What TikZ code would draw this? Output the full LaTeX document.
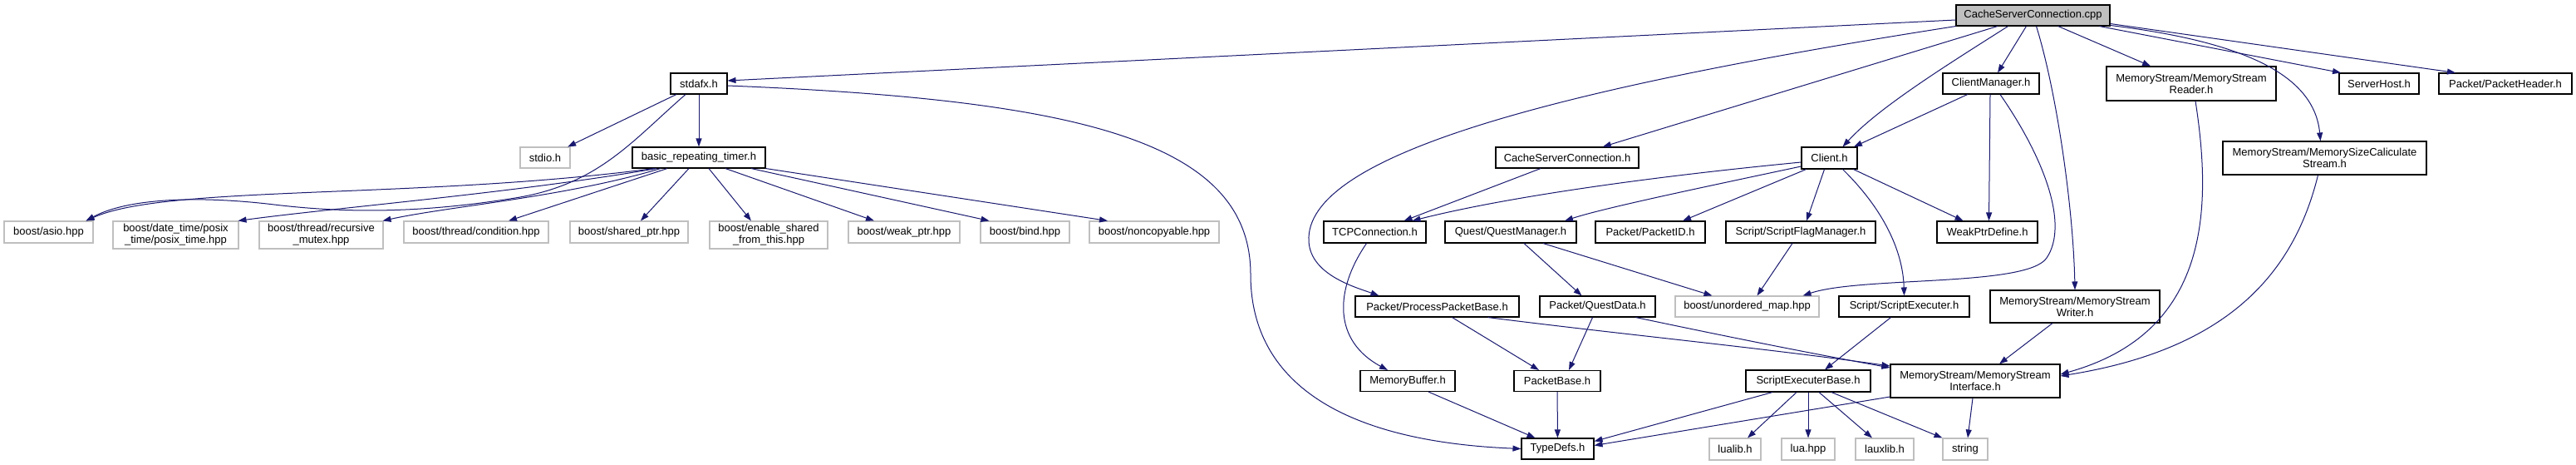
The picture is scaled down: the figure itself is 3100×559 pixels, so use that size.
\documentclass[tikz,border=0pt]{standalone}
\usepackage{fontspec}
\setmainfont{Liberation Sans}
\usetikzlibrary{arrows.meta}
\definecolor{edgec}{HTML}{191970}
\definecolor{extc}{HTML}{BFBFBF}
\definecolor{rootc}{HTML}{BFBFBF}
\begin{document}
\begin{tikzpicture}[x=1pt,y=1pt,
  box/.style={rectangle, draw=black, line width=1.1pt, inner sep=0pt, align=center, font=\fontsize{13}{14}\selectfont, fill=white},
  ext/.style={box, draw=extc},
  root/.style={box, fill=rootc},
  wh/.style 2 args={minimum width=#1pt, minimum height=#2pt},
  edge/.style={draw=edgec, line width=1pt, -{Triangle[length=10pt,width=7pt]}}]
\fill[white] (0,0) rectangle (3100,-559);
\useasboundingbox (0,0) rectangle (3100,-559);

\node[root, wh={185}{25}] (cpp) at (2446.5,-18.5) {CacheServerConnection.cpp};
\node[box, wh={68}{25}] (stdafx) at (841,-100.5) {stdafx.h};
\node[ext, wh={60}{25}] (stdio) at (656,-189.5) {stdio.h};
\node[box, wh={160}{25}] (brt) at (841,-189.5) {basic\_repeating\_timer.h};
\node[ext, wh={107}{26}] (asio) at (58.5,-279) {boost/asio.hpp};
\node[ext, wh={151}{33}] (posix) at (211.5,-282.5) {boost/date\_time/posix\\\_time/posix\_time.hpp};
\node[ext, wh={149}{33}] (rmutex) at (386.5,-282.5) {boost/thread/recursive\\\_mutex.hpp};
\node[ext, wh={174}{26}] (cond) at (573,-279) {boost/thread/condition.hpp};
\node[ext, wh={142}{26}] (sptr) at (757,-279) {boost/shared\_ptr.hpp};
\node[ext, wh={142}{33}] (esft) at (925,-282.5) {boost/enable\_shared\\\_from\_this.hpp};
\node[ext, wh={134}{26}] (wptr) at (1088,-279) {boost/weak\_ptr.hpp};
\node[ext, wh={107}{26}] (bind) at (1233.5,-279) {boost/bind.hpp};
\node[ext, wh={156}{26}] (noncp) at (1389,-279) {boost/noncopyable.hpp};
\node[box, wh={172}{25}] (csh) at (1886,-189.5) {CacheServerConnection.h};
\node[box, wh={123}{26}] (tcp) at (1654.5,-279) {TCPConnection.h};
\node[box, wh={158}{26}] (qm) at (1818,-279) {Quest/QuestManager.h};
\node[box, wh={132}{26}] (pid) at (1986,-279) {Packet/PacketID.h};
\node[box, wh={180}{26}] (sfm) at (2167,-279) {Script/ScriptFlagManager.h};
\node[box, wh={67}{26}] (client) at (2201.5,-190) {Client.h};
\node[box, wh={116}{25}] (cm) at (2396,-100.5) {ClientManager.h};
\node[ext, wh={173}{25}] (umap) at (2102.5,-368.5) {boost/unordered\_map.hpp};
\node[box, wh={197}{25}] (ppb) at (1729.5,-368.5) {Packet/ProcessPacketBase.h};
\node[box, wh={139}{25}] (qd) at (1922.5,-368.5) {Packet/QuestData.h};
\node[box, wh={157}{25}] (se) at (2291.5,-368.5) {Script/ScriptExecuter.h};
\node[box, wh={121}{26}] (wpd) at (2391.5,-279) {WeakPtrDefine.h};
\node[box, wh={204}{39}] (msw) at (2497,-368.5) {MemoryStream/MemoryStream\\Writer.h};
\node[box, wh={150}{26}] (seb) at (2176,-458) {ScriptExecuterBase.h};
\node[box, wh={204}{40}] (msi) at (2377,-458) {MemoryStream/MemoryStream\\Interface.h};
\node[ext, wh={62}{26}] (lualib) at (2088,-540) {lualib.h};
\node[ext, wh={64}{26}] (luahpp) at (2176,-540) {lua.hpp};
\node[ext, wh={70}{26}] (lauxlib) at (2268,-540) {lauxlib.h};
\node[ext, wh={54}{26}] (string) at (2365,-540) {string};
\node[box, wh={114}{25}] (mb) at (1694,-458) {MemoryBuffer.h};
\node[box, wh={104}{25}] (pb) at (1874,-458) {PacketBase.h};
\node[box, wh={87}{25}] (td) at (1874.5,-539.5) {TypeDefs.h};
\node[box, wh={204}{41}] (msr) at (2637,-100.5) {MemoryStream/MemoryStream\\Reader.h};
\node[box, wh={96}{25}] (sh) at (2863,-100.5) {ServerHost.h};
\node[box, wh={160}{25}] (ph) at (3015,-100.5) {Packet/PacketHeader.h};
\node[box, wh={245}{40}] (msc) at (2797.5,-190) {MemoryStream/MemorySizeCaliculate\\Stream.h};

% CacheServerConnection.cpp
\draw[edge] ([yshift=-5.5]cpp.west) -- ([yshift=3.5]stdafx.east);
\draw[edge] (cpp.south west) .. controls (1850,-110) and (1570,-190) .. (1575,-290) .. controls (1577,-330) and (1630,-345) .. ([xshift=-70]ppb.north);
\draw[edge] (cpp) -- (csh);
\draw[edge] ([xshift=-30]cpp.south) .. controls (2340,-80) and (2260,-130) .. ([xshift=16]client.north);
\draw[edge] (cpp) -- (cm);
\draw[edge] ([xshift=4]cpp.south) .. controls (2475,-110) and (2495,-250) .. (msw.north);
\draw[edge] (cpp) -- (msr);
\draw[edge] ([xshift=80]cpp.south) -- ([xshift=-46]sh.north);
\draw[edge] ([yshift=-10]cpp.east) -- ([xshift=-60]ph.north);
\draw[edge] ([yshift=-12]cpp.east) .. controls (2700,-50) and (2785,-90) .. ([xshift=-5]msc.north);

% stdafx.h
\draw[edge] (stdafx) -- (stdio);
\draw[edge] (stdafx) -- (brt);
\draw[edge] ([xshift=-16]stdafx.south) .. controls (760,-170) and (720,-222) .. (620,-238) .. controls (520,-254) and (430,-258) .. (330,-246) .. controls (230,-234) and (150,-240) .. ([xshift=45]asio.north);
\draw[edge] ([yshift=-2.5]stdafx.east) .. controls (1300,-120) and (1505,-170) .. (1505,-330) .. controls (1505,-450) and (1600,-530) .. (td.west);

% basic_repeating_timer.h
\draw[edge] ([xshift=-54]brt.south) .. controls (500,-240) and (200,-222) .. ([xshift=45]asio.north);
\draw[edge] ([xshift=-51]brt.south) .. controls (620,-232) and (400,-250) .. ([xshift=75]posix.north);
\draw[edge] ([xshift=-46]brt.south) .. controls (680,-237) and (540,-248) .. ([xshift=74]rmutex.north);
\draw[edge] ([xshift=-38]brt.south) -- ([xshift=39]cond.north);
\draw[edge] ([xshift=-12]brt.south) -- ([xshift=14]sptr.north);
\draw[edge] ([xshift=12]brt.south) -- ([xshift=-21]esft.north);
\draw[edge] ([xshift=32]brt.south) -- ([xshift=-36]wptr.north);
\draw[edge] ([xshift=63]brt.south) -- ([xshift=-43]bind.north);
\draw[edge] (brt.south east) -- ([xshift=-56]noncp.north);

% CacheServerConnection.h
\draw[edge] ([xshift=-32]csh.south) -- ([xshift=35]tcp.north);

% Client.h
\draw[edge] ([yshift=-5]client.west) .. controls (1960,-215) and (1800,-240) .. ([xshift=45]tcp.north);
\draw[edge] ([yshift=-10]client.west) .. controls (2050,-225) and (1930,-250) .. ([xshift=65]qm.north);
\draw[edge] ([xshift=-28]client.south) -- ([xshift=39]pid.north);
\draw[edge] ([xshift=-6]client.south) -- ([xshift=7]sfm.north);
\draw[edge] ([xshift=16]client.south) .. controls (2265,-250) and (2290,-300) .. (se.north);
\draw[edge] (client) -- (wpd);

% ClientManager.h
\draw[edge] (cm) -- (client);
\draw[edge] ([xshift=-1]cm.south) -- ([xshift=2]wpd.north);
\draw[edge] ([xshift=11]cm.south) .. controls (2460,-190) and (2490,-270) .. (2463,-310) .. controls (2440,-345) and (2240,-332) .. ([xshift=67]umap.north);

% second level
\draw[edge] ([xshift=-10]tcp.south) .. controls (1605,-350) and (1605,-410) .. ([xshift=-24]mb.north);
\draw[edge] ([xshift=16]qm.south) -- ([xshift=-19]qd.north);
\draw[edge] ([xshift=39]qm.south) -- ([xshift=-42]umap.north);
\draw[edge] ([xshift=-10]sfm.south) -- ([xshift=12]umap.north);
\draw[edge] ([xshift=18]ppb.south) -- ([xshift=-22]pb.north);
\draw[edge] ([xshift=61]ppb.south) .. controls (1960,-403) and (2120,-418) .. ([yshift=18]msi.west);
\draw[edge] ([xshift=-6]qd.south) -- ([xshift=14]pb.north);
\draw[edge] ([xshift=46]qd.south) .. controls (2080,-405) and (2180,-425) .. ([yshift=16]msi.west);
\draw[edge] ([xshift=-16]se.south) -- ([xshift=20]seb.north);
\draw[edge] ([xshift=-27]msw.south) -- ([xshift=29]msi.north);
\draw[edge] ([xshift=5]msr.south) .. controls (2662,-250) and (2660,-400) .. ([yshift=8]msi.east);
\draw[edge] ([xshift=-8]msc.south) .. controls (2760,-330) and (2680,-420) .. ([yshift=6]msi.east);

% bottom level
\draw[edge] ([xshift=25]mb.south) -- ([xshift=-27]td.north);
\draw[edge] (pb) -- (td);
\draw[edge] ([xshift=-43]seb.south) -- ([yshift=9]td.east);
\draw[edge] ([yshift=-19]msi.west) -- ([yshift=4]td.east);
\draw[edge] ([xshift=-14]seb.south) -- ([xshift=15]lualib.north);
\draw[edge] (seb) -- (luahpp);
\draw[edge] ([xshift=13]seb.south) -- ([xshift=-15]lauxlib.north);
\draw[edge] ([xshift=28]seb.south) -- (string.north west);
\draw[edge] ([xshift=-3]msi.south) -- ([xshift=3]string.north);
\end{tikzpicture}
\end{document}
